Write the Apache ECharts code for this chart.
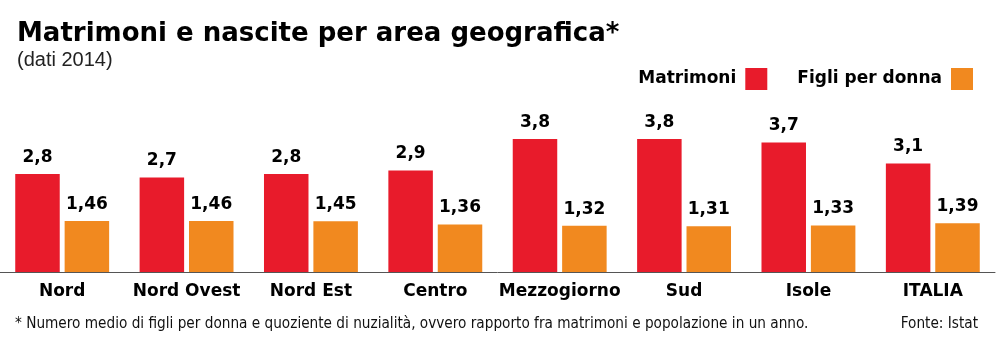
<!DOCTYPE html>
<html><head><meta charset="utf-8">
<script src="https://cdn.jsdelivr.net/npm/echarts@6/dist/echarts.min.js"></script>
<style>html,body{margin:0;padding:0;background:#fff}#c{width:1000px;height:346px}</style>
</head><body><div id="c"></div>
<script>
const categories = ['Nord', 'Nord Ovest', 'Nord Est', 'Centro', 'Mezzogiorno', 'Sud', 'Isole', 'ITALIA'];
const matrimoni = [2.8, 2.7, 2.8, 2.9, 3.8, 3.8, 3.7, 3.1];
const figli = [1.46, 1.46, 1.45, 1.36, 1.32, 1.31, 1.33, 1.39];
const seriesNames = ['Matrimoni', 'Figli per donna'];

const chart = echarts.init(document.getElementById('c'));
const fmt = p => String(p.value).replace('.', ',');
const BOLD = '"DejaVu Sans", sans-serif';
const labelStyle = {show: true, position: 'top', distance: 8, formatter: fmt,
  fontFamily: BOLD, fontWeight: 'bold', fontSize: 17, color: '#000'};
chart.setOption({
  animation: false,
  title: {
    text: 'Matrimoni e nascite per area geografica*',
    subtext: '(dati 2014)',
    left: 12, top: 16, itemGap: 3,
    textStyle: {fontFamily: BOLD, fontWeight: 'bold', fontSize: 26, color: '#000'},
    subtextStyle: {fontFamily: 'Liberation Sans', fontSize: 20, color: '#222'}
  },
  legend: {
    right: 22, top: 63, align: 'right', itemWidth: 22, itemHeight: 22, itemGap: 30,
    icon: 'rect',
    textStyle: {fontFamily: BOLD, fontWeight: 'bold', fontSize: 17, color: '#000', padding: [0, 4, 0, 0]},
    data: seriesNames
  },
  grid: {left: 0, right: 5, top: 97, bottom: 74, containLabel: false},
  xAxis: {
    type: 'category', data: categories,
    axisLine: {lineStyle: {color: '#555', width: 1}},
    axisTick: {show: false},
    axisLabel: {interval: 0, margin: 11, fontFamily: BOLD, fontWeight: 'bold', fontSize: 17, color: '#000'}
  },
  yAxis: {type: 'value', min: 0, max: 5, show: false, splitLine: {show: false}},
  series: [
    {name: seriesNames[0], type: 'bar', data: matrimoni, barWidth: 44.5, barGap: '11%',
      itemStyle: {color: '#e81b2b'}, label: labelStyle},
    {name: seriesNames[1], type: 'bar', data: figli, barWidth: 44.5,
      itemStyle: {color: '#f1891f'}, label: labelStyle}
  ],
  graphic: [
    {type: 'text', left: 15, top: 317, style: {text: '* Numero medio di figli per donna e quoziente di nuzialità, ovvero rapporto fra matrimoni e popolazione in un anno.',
      font: '15.2px "DejaVu Sans Condensed", sans-serif', fill: '#111'}},
    {type: 'text', right: 22, top: 317, style: {text: 'Fonte: Istat',
      font: '15.2px "DejaVu Sans Condensed", sans-serif', fill: '#111'}}
  ]
});
</script></body></html>
